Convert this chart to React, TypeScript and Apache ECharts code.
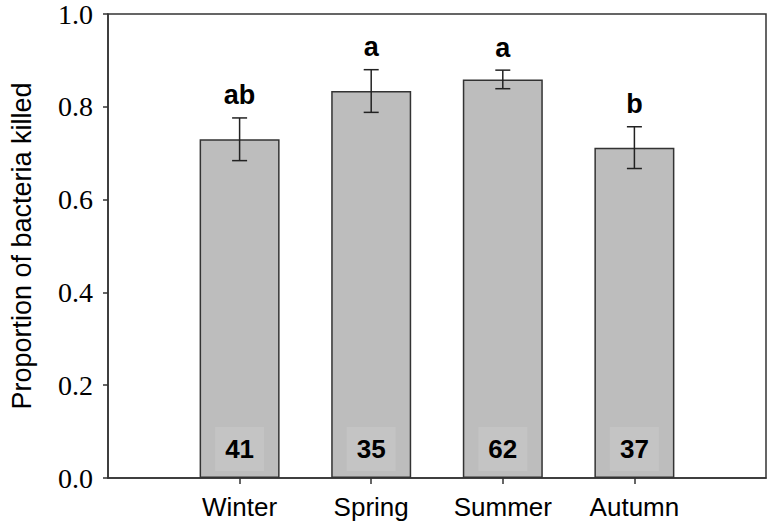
import React, { useEffect, useRef } from "react";
import * as echarts from "echarts";

const categories = ["Winter", "Spring", "Summer", "Autumn"];
const means = [0.73, 0.834, 0.859, 0.712];
const errors = [0.046, 0.046, 0.02, 0.045];
const letters = ["ab", "a", "a", "b"];
const sampleSizes = [41, 35, 62, 37];
const yMin = 0;
const yMax = 1.0;
const yStep = 0.2;

const SANS = "'Liberation Sans', Arial, Helvetica, sans-serif";
const SERIF = "'Liberation Serif', 'Times New Roman', serif";

export default function App() {
  const ref = useRef<HTMLDivElement>(null);
  useEffect(() => {
    if (!ref.current) return;
    const chart = echarts.init(ref.current, null, { renderer: "svg" });
    const axisCats = ["", ...categories, ""];
    const barData: any[] = ["-", ...means.map((m, i) => ({ value: m, n: sampleSizes[i] })), "-"];
    const errData = means.map((m, i) => [i + 1, m - errors[i], m + errors[i]]);
    const letterData = means.map((m, i) => [i + 1, m + errors[i]]);
    chart.setOption({
      animation: false,
      backgroundColor: "#ffffff",
      grid: {
        left: 100,
        right: 4,
        top: 13,
        bottom: 46,
        show: true,
        borderColor: "#333",
        borderWidth: 1.5,
        backgroundColor: "transparent",
      },
      xAxis: {
        type: "category",
        data: axisCats,
        boundaryGap: false,
        axisLine: { lineStyle: { color: "#333", width: 1.5 } },
        axisTick: {
          show: true,
          length: 6,
          interval: (idx: number) => idx > 0 && idx < axisCats.length - 1,
          lineStyle: { color: "#333", width: 1.5 },
        },
        axisLabel: {
          interval: 0,
          fontFamily: SANS,
          fontSize: 26,
          color: "#000",
          margin: 16,
        },
        splitLine: { show: false },
      },
      yAxis: {
        type: "value",
        min: yMin,
        max: yMax,
        interval: yStep,
        name: "Proportion of bacteria killed",
        nameLocation: "middle",
        nameGap: 73,
        nameTextStyle: { fontFamily: SANS, fontSize: 27, color: "#000" },
        axisLine: { show: true, lineStyle: { color: "#333", width: 1.5 } },
        axisTick: { show: true, length: 5, lineStyle: { color: "#333", width: 1.5 } },
        axisLabel: {
          fontFamily: SERIF,
          fontSize: 28,
          color: "#000",
          margin: 15,
          formatter: (v: number) => v.toFixed(1),
        },
        splitLine: { show: false },
      },
      series: [
        {
          type: "bar",
          data: barData,
          barWidth: 80,
          itemStyle: { color: "#bdbdbd", borderColor: "#333", borderWidth: 1.5 },
          label: {
            show: true,
            position: "insideBottom",
            distance: 7,
            formatter: (p: any) => String(p.data.n),
            fontFamily: SANS,
            fontWeight: "bold",
            fontSize: 26,
            color: "#000",
            backgroundColor: "#c4c4c4",
            padding: [9, 10, 9, 10],
          },
        },
        {
          type: "custom",
          data: errData,
          encode: { x: 0, y: [1, 2] },
          z: 5,
          renderItem: (params: any, api: any) => {
            const x = api.value(0);
            const lo = api.coord([x, api.value(1)]);
            const hi = api.coord([x, api.value(2)]);
            const cap = 7.5;
            const style = { stroke: "#222", lineWidth: 1.5 };
            return {
              type: "group",
              children: [
                { type: "line", shape: { x1: lo[0], y1: lo[1], x2: hi[0], y2: hi[1] }, style },
                { type: "line", shape: { x1: hi[0] - cap, y1: hi[1], x2: hi[0] + cap, y2: hi[1] }, style },
                { type: "line", shape: { x1: lo[0] - cap, y1: lo[1], x2: lo[0] + cap, y2: lo[1] }, style },
              ],
            };
          },
        },
        {
          type: "scatter",
          data: letterData,
          symbolSize: 0,
          z: 6,
          itemStyle: { color: "#000", opacity: 1 },
          label: {
            show: true,
            position: "top",
            distance: 9,
            formatter: (p: any) => letters[p.dataIndex],
            fontFamily: SANS,
            fontWeight: "bold",
            fontSize: 27,
            color: "#000",
          },
        },
      ],
    });
    return () => chart.dispose();
  }, []);
  return (
    <div
      ref={ref}
      style={{ position: "absolute", left: 0, top: 0, width: 770, height: 524 }}
    />
  );
}
